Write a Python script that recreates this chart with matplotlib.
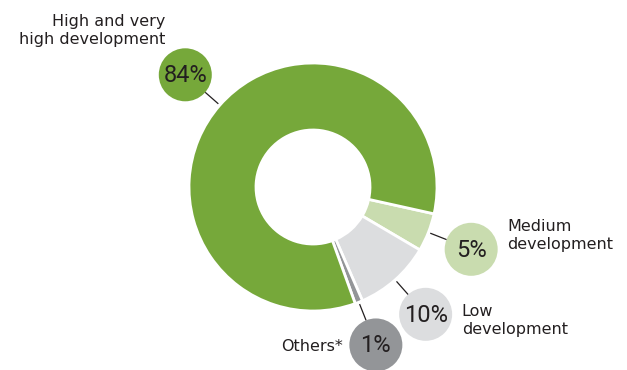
import numpy as np
import matplotlib
matplotlib.use("Agg")
import matplotlib.pyplot as plt
from matplotlib.patches import Circle

# Datos
categorias = ["Medium\ndevelopment", "Low\ndevelopment", "Others*", "High and very\nhigh development"]
valores = [5, 10, 1, 84]
colores = ["#c9dcaf", "#dcdddf", "#939598", "#76a83a"]

texto = "#231f20"

fig = plt.figure(figsize=(6.27, 3.70), dpi=100)
ax = fig.add_axes([0, 0, 1, 1])

# centro y radios en pixeles
cx, cy = 313, 187
R = 124
ancho = 67

wedges, _ = ax.pie(valores, colors=colores, radius=R, center=(cx, cy),
                   startangle=12.5, counterclock=True,
                   wedgeprops=dict(width=ancho, edgecolor="white", linewidth=2))

ax.set_xlim(0, 627)
ax.set_ylim(370, 0)
ax.set_aspect("equal")
ax.axis("off")

r_burbuja = 26.5
d_burbuja = 170

# desplazamiento de cada etiqueta respecto a su burbuja
desp = [(36, -14, "left"), (36, 6, "left"), (-33, 2, "right"), (-20, -44, "right")]

for w, cat, val, col, (dx, dy, ha) in zip(wedges, categorias, valores, colores, desp):
    ang = np.deg2rad((w.theta1 + w.theta2) / 2)
    c, s = np.cos(ang), np.sin(ang)
    bx, by = cx + d_burbuja * c, cy + d_burbuja * s
    # linea guia
    ax.plot([cx + (R + 2) * c, cx + (d_burbuja - r_burbuja) * c],
            [cy + (R + 2) * s, cy + (d_burbuja - r_burbuja) * s],
            color=texto, lw=0.9, solid_capstyle="butt")
    ax.add_patch(Circle((bx, by), r_burbuja, color=col, lw=0))
    ax.text(bx, by + 1, f"{val}%", ha="center", va="center", fontsize=17,
            family=["Roboto", "DejaVu Sans"], color=texto)
    ax.text(bx + dx, by + dy, cat, ha=ha, va="center", fontsize=11.5,
            color=texto, linespacing=1.25, multialignment=ha)

fig.savefig("out.png", dpi=100)
